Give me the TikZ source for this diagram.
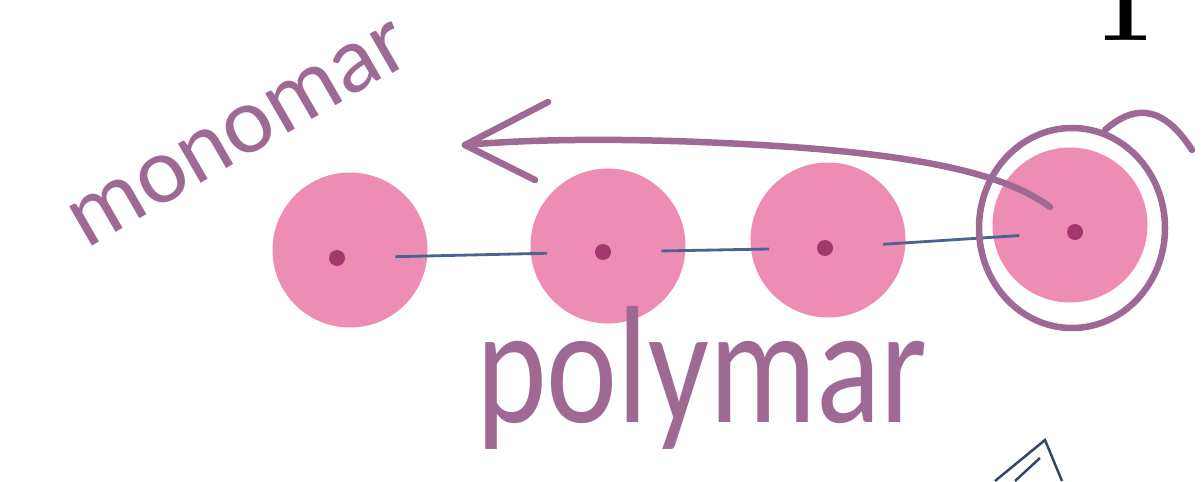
\documentclass[tikz,border=0pt]{standalone}
\usepackage{fontspec}
\usepackage{xcolor}
\usepackage{tikz}
\usetikzlibrary{calc}
\newfontfamily\handfont{Carlito}
\definecolor{beadpink}{HTML}{EE8DB4}
\definecolor{beadcore}{HTML}{A3386B}
\definecolor{bondblue}{HTML}{4A6390}
\definecolor{mauve}{HTML}{9E6A93}
\tikzset{
  bead/.style={circle, fill=beadpink, minimum size=31mm, inner sep=0pt},
  nucleus/.style={circle, fill=beadcore, minimum size=3.2mm, inner sep=0pt},
  bond/.style={draw=bondblue, line width=1.6pt, shorten >=9.5mm, shorten <=10mm},
  ink/.style={draw=mauve, line width=1.3mm, line cap=round, line join=round},
  scrawl/.style={color=mauve, font=\handfont, inner sep=0pt},
}
\begin{document}
\begin{tikzpicture}[x=0.2mm, y=-0.2mm]
  \fill[white] (0,0) rectangle (1202,481);
  \useasboundingbox (0,0) rectangle (1202,481);

  % cropped text at the top edge
  \node[font=\bfseries\fontsize{60}{60}\selectfont, anchor=base, inner sep=0pt] (top) at (1125,40) {1};

  % the four beads
  \node[bead] (b1) at (350,250) {};
  \node[bead] (b2) at (608,246) {};
  \node[bead] (b3) at (828,240) {};
  \node[bead] (b4) at (1070,225) {};
  \node[nucleus] (d1) at (337,258) {};
  \node[nucleus] (d2) at (603,252) {};
  \node[nucleus] (d3) at (825,248) {};
  \node[nucleus] (d4) at (1075,232) {};

  % bonds between them
  \draw[bond] (d1) -- (d2);
  \draw[bond] (d2) -- (d3);
  \draw[bond] (d3) -- (d4);

  % loop round the last bead and the arrow back to the label
  \draw[ink] (1072,228) ellipse [x radius=93, y radius=100];
  \draw[ink] (1105,130) .. controls (1130,108) and (1160,100) .. (1192,150);
  \coordinate (tip) at (465,145);
  \draw[ink] ($(d4)+(-25,-25)$) .. controls (1000,170) and (900,150) .. (700,142)
    .. controls (600,138) and (520,140) .. (tip);
  \draw[ink] (tip) -- (548,102);
  \draw[ink] (tip) -- (535,180);

  % labels
  \node[scrawl, rotate=30, font=\handfont\fontsize{54}{54}\selectfont] (mono) at (240,135) {monomar};
  \node[scrawl, xscale=0.9, yscale=1.12, font=\handfont\fontsize{85}{85}\selectfont, anchor=base] (poly) at (702,422) {polymar};

  % cropped shape at the bottom edge
  \draw[bondblue!70!black, line width=1.4pt] (995,481) -- (1045,440) -- (1062,481);
  \draw[bondblue!70!black, line width=1.4pt] (1015,481) -- (1040,458);
\end{tikzpicture}
\end{document}
